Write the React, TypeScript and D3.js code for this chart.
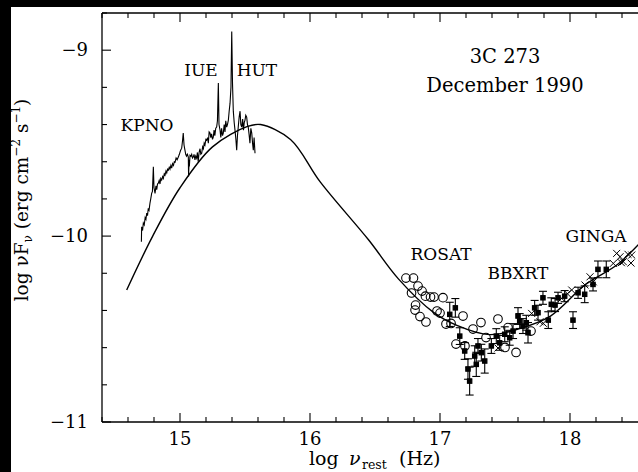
import React from "react";
import * as d3 from "d3";

// ---- Data ----
const modelX = [14.59, 14.79, 15.0, 15.25, 15.52, 15.62, 15.85, 16.08, 16.45, 16.68, 16.95, 17.13, 17.38, 17.6, 17.85, 18.12, 18.37, 18.6];
const modelY = [-10.29, -10.0, -9.74, -9.52, -9.41, -9.40, -9.48, -9.71, -10.02, -10.23, -10.41, -10.48, -10.53, -10.5, -10.43, -10.26, -10.15, -9.99];

const optX = [14.703, 14.705, 14.712, 14.718, 14.725, 14.732, 14.738, 14.744, 14.75, 14.756, 14.762, 14.769, 14.775, 14.782, 14.788, 14.795, 14.8, 14.808, 14.815, 14.821, 14.827, 14.833, 14.84, 14.846, 14.852, 14.859, 14.866, 14.872, 14.879, 14.885, 14.892, 14.898, 14.904, 14.91, 14.917, 14.923, 14.93, 14.936, 14.943, 14.95, 14.956, 14.962, 14.97, 14.978, 14.987, 14.995, 15.004, 15.013, 15.019, 15.025, 15.031, 15.038, 15.044, 15.05, 15.057, 15.064, 15.066, 15.07, 15.072, 15.077, 15.084, 15.09, 15.096, 15.102, 15.108, 15.115, 15.121, 15.128, 15.134, 15.14, 15.147, 15.154, 15.16, 15.167, 15.174, 15.18, 15.186, 15.192, 15.199, 15.205, 15.212, 15.218, 15.224, 15.231, 15.237, 15.243, 15.25, 15.256, 15.262, 15.268, 15.275, 15.282, 15.288, 15.295, 15.3, 15.308, 15.314, 15.32, 15.327, 15.333, 15.34, 15.346, 15.352, 15.359, 15.365, 15.372, 15.378, 15.385, 15.392, 15.398, 15.404, 15.41, 15.417, 15.423, 15.43, 15.436, 15.442, 15.448, 15.455, 15.462, 15.468, 15.475, 15.482, 15.488, 15.494, 15.5, 15.506, 15.513, 15.519, 15.525, 15.531, 15.538, 15.545, 15.552, 15.558, 15.564, 15.57, 15.577];
const optY = [-10.03, -9.95, -9.97, -9.93, -9.94, -9.9, -9.91, -9.876, -9.89, -9.85, -9.86, -9.823, -9.8, -9.77, -9.76, -9.627, -9.74, -9.77, -9.73, -9.75, -9.72, -9.715, -9.7, -9.72, -9.69, -9.699, -9.68, -9.69, -9.665, -9.672, -9.65, -9.66, -9.64, -9.645, -9.63, -9.64, -9.62, -9.634, -9.61, -9.62, -9.6, -9.602, -9.58, -9.59, -9.575, -9.56, -9.54, -9.527, -9.49, -9.446, -9.51, -9.538, -9.56, -9.57, -9.56, -9.575, -9.68, -9.59, -9.625, -9.565, -9.57, -9.56, -9.58, -9.575, -9.56, -9.59, -9.57, -9.581, -9.55, -9.6, -9.55, -9.53, -9.56, -9.554, -9.52, -9.53, -9.5, -9.51, -9.48, -9.484, -9.47, -9.5, -9.44, -9.446, -9.47, -9.45, -9.48, -9.468, -9.43, -9.46, -9.42, -9.414, -9.38, -9.177, -9.4, -9.43, -9.47, -9.42, -9.46, -9.446, -9.4, -9.44, -9.38, -9.414, -9.4, -9.376, -9.33, -9.285, -9.2, -8.9, -9.18, -9.328, -9.39, -9.43, -9.48, -9.538, -9.46, -9.414, -9.36, -9.328, -9.4, -9.414, -9.37, -9.43, -9.39, -9.376, -9.35, -9.36, -9.4, -9.414, -9.45, -9.5, -9.42, -9.446, -9.5, -9.538, -9.47, -9.554];

// ROSAT (open circles)
const rosatX = [16.738, 16.796, 16.831, 16.781, 16.862, 16.888, 16.927, 16.954, 17.023, 16.812, 16.808, 16.846, 16.892, 16.977, 17.0, 17.046, 17.085, 17.177, 17.123, 17.192, 17.254, 17.315, 17.354, 17.446, 17.585, 17.5, 17.7, 17.523];
const rosatY = [-10.226, -10.226, -10.269, -10.306, -10.296, -10.323, -10.328, -10.328, -10.331, -10.371, -10.398, -10.433, -10.462, -10.403, -10.414, -10.473, -10.47, -10.43, -10.581, -10.591, -10.5, -10.465, -10.546, -10.446, -10.626, -10.599, -10.511, -10.492];

// BBXRT (filled squares with error bars)
const bbxrtX = [17.075, 17.118, 17.152, 17.19, 17.215, 17.228, 17.267, 17.279, 17.292, 17.318, 17.344, 17.395, 17.433, 17.459, 17.498, 17.536, 17.562, 17.6, 17.613, 17.638, 17.664, 17.677, 17.728, 17.754, 17.792, 17.833, 17.856, 17.885, 17.908, 17.959, 18.023, 18.062, 18.113, 18.177, 18.215, 18.279];
const bbxrtY = [-10.421, -10.386, -10.538, -10.618, -10.715, -10.78, -10.645, -10.69, -10.591, -10.627, -10.672, -10.591, -10.538, -10.574, -10.528, -10.547, -10.511, -10.43, -10.457, -10.484, -10.466, -10.52, -10.386, -10.412, -10.332, -10.452, -10.367, -10.371, -10.332, -10.323, -10.452, -10.305, -10.313, -10.26, -10.179, -10.179];
const bbxrtErr = [0.065, 0.05, 0.045, 0.045, 0.055, 0.075, 0.055, 0.065, 0.04, 0.045, 0.065, 0.04, 0.04, 0.04, 0.04, 0.04, 0.04, 0.045, 0.04, 0.04, 0.04, 0.055, 0.04, 0.04, 0.035, 0.045, 0.035, 0.035, 0.03, 0.03, 0.045, 0.03, 0.045, 0.035, 0.045, 0.045];

// GINGA (crosses)
const gingaX = [18.359, 18.385, 18.41, 18.475, 18.446, 18.395, 18.469, 18.154, 18.179, 18.115, 18.013, 17.936, 17.769, 17.705, 18.333, 17.795, 17.446, 17.98];
const gingaY = [-10.093, -10.111, -10.138, -10.102, -10.098, -10.143, -10.145, -10.219, -10.246, -10.263, -10.29, -10.335, -10.461, -10.416, -10.147, -10.469, -10.602, -10.31];

const xMajor = [15, 16, 17, 18];
const xTickLabels = ["15", "16", "17", "18"];
const yMajor = [-9, -10, -11];
const yTickLabels = ["\u22129", "\u221210", "\u221211"];

const instrumentLabels = ["KPNO", "IUE", "HUT", "ROSAT", "BBXRT", "GINGA"];
const instrumentAnchor: [number, number][] = [[14.746, -9.435], [15.162, -9.14], [15.592, -9.14], [17.008, -10.129], [17.6, -10.231], [18.2, -10.032]];

const W = 638, H = 472;
const L = 102, R = 648, T = 13, B = 422;
const FONT = "'DejaVu Serif', serif";

export default function App() {
  const x = d3.scaleLinear().domain([14.4, 18.6]).range([L, R]);
  const y = d3.scaleLinear().domain([-11, -8.8]).range([B, T]);

  const model = d3.line<number>().x((d, i) => x(modelX[i])).y((d) => y(d)).curve(d3.curveCatmullRom.alpha(0.5));
  const spec = d3.line<number>().x((d, i) => x(optX[i])).y((d) => y(d));

  const xMinor = d3.range(14.4, 18.61, 0.2).map((v) => +v.toFixed(1));
  const yMinor = d3.range(-11, -8.79, 0.2).map((v) => +v.toFixed(1));
  const isMajor = (v: number) => Math.abs(v - Math.round(v)) < 1e-6;

  return (
    <svg width={W} height={H} style={{ position: "fixed", left: 0, top: 0 }} fontFamily={FONT}>
      <rect x={0} y={0} width={W} height={H} fill="#000" />
      <rect x={11} y={7} width={W - 11} height={H - 7} fill="#fff" />
      <g stroke="#000" fill="none">
        <line x1={L} y1={T} x2={L} y2={B} strokeWidth={1.3} />
        <line x1={L} y1={B} x2={R} y2={B} strokeWidth={1.3} />
        <line x1={L} y1={T} x2={R} y2={T} strokeWidth={1.3} />
        {xMinor.map((v, i) => {
          const len = isMajor(v) ? 9 : 5;
          return (
            <g key={"xt" + i} strokeWidth={1.1}>
              <line x1={x(v)} x2={x(v)} y1={B} y2={B - len} />
              <line x1={x(v)} x2={x(v)} y1={T} y2={T + len} />
            </g>
          );
        })}
        {yMinor.map((v, i) => {
          const len = isMajor(v) ? 9 : 5;
          return <line key={"yt" + i} x1={L} x2={L + len} y1={y(v)} y2={y(v)} strokeWidth={1.1} />;
        })}
      </g>
      {xMajor.map((v, i) => (
        <text key={"xl" + i} x={x(v)} y={445} fontSize={18} textAnchor="middle">{xTickLabels[i]}</text>
      ))}
      {yMajor.map((v, i) => (
        <text key={"yl" + i} x={88} y={y(v) + 6} fontSize={18} textAnchor="end">{yTickLabels[i]}</text>
      ))}
      <text y={465} fontSize={19}>
        <tspan x={309}>log</tspan>
        <tspan x={349} fontStyle="italic">ν</tspan>
        <tspan x={362} fontSize={12.5} dy={4}>rest</tspan>
        <tspan x={399} dy={-4}>(Hz)</tspan>
      </text>
      <text transform="translate(28,200) rotate(-90)" fontSize={18.5} textAnchor="middle">
        log νF<tspan fontSize={12} dy={4}>ν</tspan><tspan dy={-4}> (erg cm</tspan><tspan fontSize={12} dy={-8}>−2</tspan><tspan dy={8}> s</tspan><tspan fontSize={12} dy={-8}>−1</tspan><tspan dy={8}>)</tspan>
      </text>
      <text x={505} y={63} fontSize={19.5} textAnchor="middle">3C 273</text>
      <text x={505} y={92} fontSize={19.5} textAnchor="middle">December 1990</text>
      {instrumentLabels.map((s, i) => (
        <text key={s} x={x(instrumentAnchor[i][0])} y={y(instrumentAnchor[i][1])} fontSize={17} textAnchor="middle">{s}</text>
      ))}

      <path d={model(modelY) || ""} fill="none" stroke="#000" strokeWidth={1.4} />
      <path d={spec(optY) || ""} fill="none" stroke="#000" strokeWidth={1.1} />

      {rosatX.map((v, i) => (
        <circle key={"r" + i} cx={x(v)} cy={y(rosatY[i])} r={4.3} fill="none" stroke="#000" strokeWidth={1.1} />
      ))}
      {bbxrtX.map((v, i) => {
        const cx = x(v);
        const y1 = y(bbxrtY[i] - bbxrtErr[i]);
        const y2 = y(bbxrtY[i] + bbxrtErr[i]);
        return (
          <g key={"b" + i} stroke="#000" strokeWidth={1.1}>
            <line x1={cx} x2={cx} y1={y1} y2={y2} />
            <line x1={cx - 4} x2={cx + 4} y1={y1} y2={y1} />
            <line x1={cx - 4} x2={cx + 4} y1={y2} y2={y2} />
            <rect x={cx - 2.2} y={y(bbxrtY[i]) - 2.2} width={4.4} height={4.4} fill="#000" />
          </g>
        );
      })}
      {gingaX.map((v, i) => {
        const cx = x(v), cy = y(gingaY[i]);
        return (
          <g key={"g" + i} stroke="#000" strokeWidth={1}>
            <line x1={cx - 3.5} x2={cx + 3.5} y1={cy - 3.5} y2={cy + 3.5} />
            <line x1={cx - 3.5} x2={cx + 3.5} y1={cy + 3.5} y2={cy - 3.5} />
          </g>
        );
      })}
    </svg>
  );
}
